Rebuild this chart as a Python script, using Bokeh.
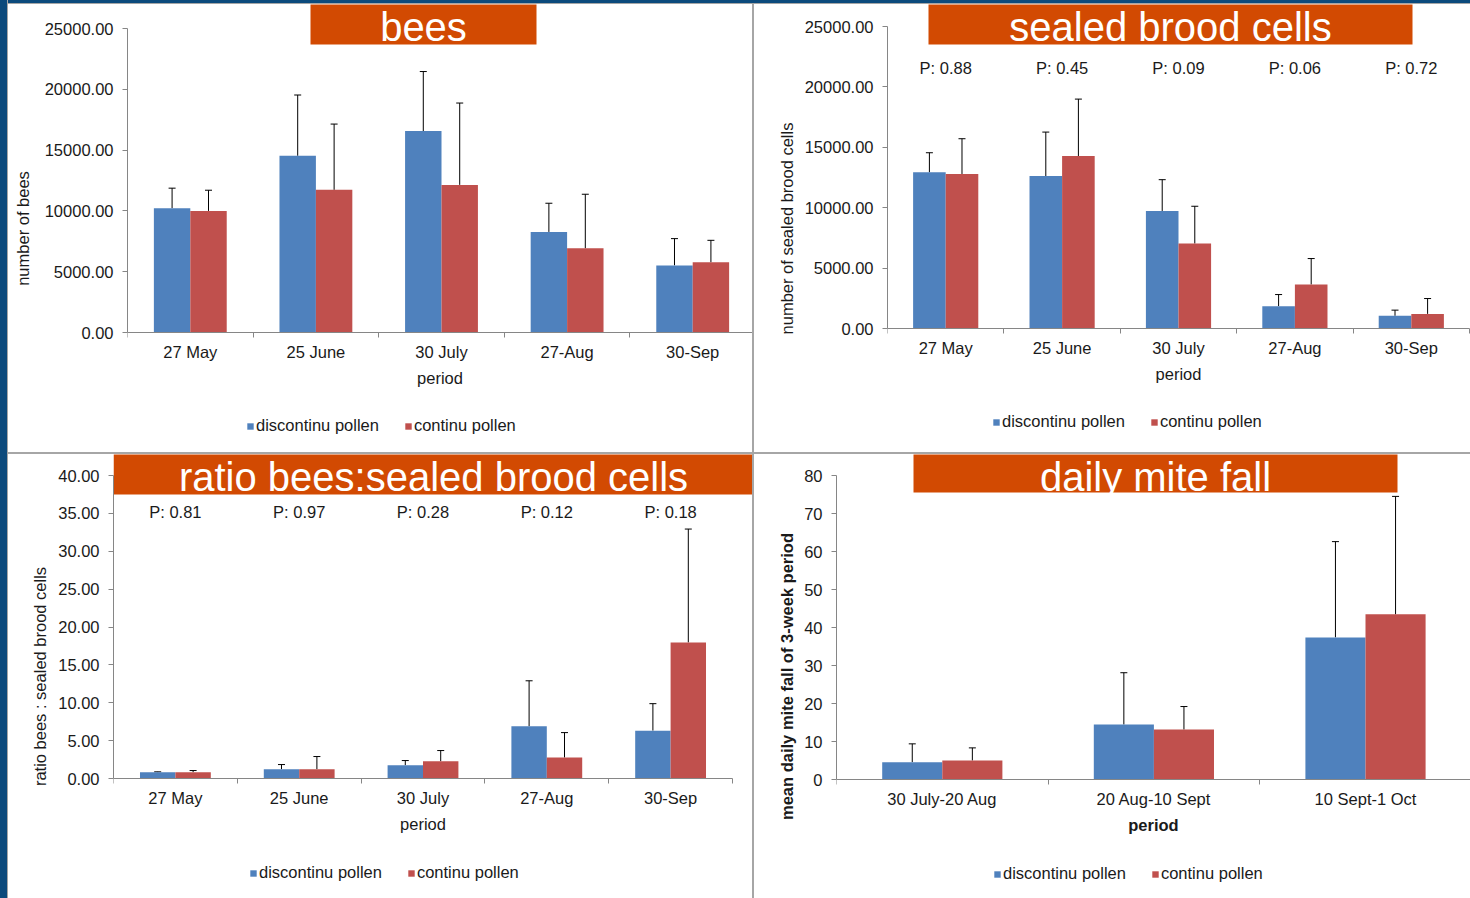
from bokeh.plotting import figure
from bokeh.models import (Range1d, FixedTicker, PrintfTickFormatter, Whisker, TeeHead,
                          ColumnDataSource, Legend, LegendItem, Div)
from bokeh.layouts import row, column
from bokeh.core.properties import value
from bokeh.embed import file_html
from bokeh.resources import INLINE

FONT = "Liberation Sans"
BLUE = "#4f81bd"
RED = "#c0504d"
TITLE_BG = "#d24a02"
AXIS_C = "#868686"
TEXT_C = "#1a1a1a"
FRAME_BLUE = "#0c4a7c"
SEP_C = "#a6a6a6"
FS = "16.5px"

# ---------------- data ----------------
dates5 = ["27 May", "25 June", "30 July", "27-Aug", "30-Sep"]
mite_periods = ["30 July-20 Aug", "20 Aug-10 Sept", "10 Sept-1 Oct"]
series = ["discontinu pollen", "continu pollen"]

bees_disc = [10220, 14530, 16570, 8270, 5520]
bees_disc_sd = [1650, 5000, 4890, 2360, 2200]
bees_cont = [10000, 11730, 12140, 6920, 5770]
bees_cont_sd = [1700, 5410, 6730, 4450, 1810]

brood_disc = [12930, 12620, 9730, 1850, 1050]
brood_disc_sd = [1620, 3640, 2590, 960, 470]
brood_cont = [12790, 14280, 7030, 3640, 1210]
brood_cont_sd = [2920, 4710, 3090, 2150, 1270]
brood_p = ["P: 0.88", "P: 0.45", "P: 0.09", "P: 0.06", "P: 0.72"]

ratio_disc = [0.83, 1.23, 1.76, 6.89, 6.32]
ratio_disc_sd = [0.05, 0.61, 0.61, 6.01, 3.56]
ratio_cont = [0.83, 1.23, 2.28, 2.77, 17.96]
ratio_cont_sd = [0.22, 1.67, 1.41, 3.29, 14.97]
ratio_p = ["P: 0.81", "P: 0.97", "P: 0.28", "P: 0.12", "P: 0.18"]

mite_disc = [4.56, 14.46, 37.4]
mite_disc_sd = [4.82, 13.64, 25.2]
mite_cont = [5.0, 13.14, 43.46]
mite_cont_sd = [3.32, 6.06, 31.04]

ticks_k = [0, 5000, 10000, 15000, 20000, 25000]
ticks_ratio = [0, 5, 10, 15, 20, 25, 30, 35, 40]
ticks_mite = [0, 10, 20, 30, 40, 50, 60, 70, 80]

TITLE_SIZE = 40


def panel(cats, disc, disc_sd, cont, cont_sd, yticks, yfmt, ylabel, title,
          W, H, ox, oy, axis_x, zero_y, top_y, cat_px, bar_w,
          box, title_cx, title_base, legend_x, legend_cy, ylab_standoff,
          pvals=None, p_y=None, bold=False):
    n = len(cats)
    fl = axis_x - ox          # frame left inside the figure
    fw = W - fl
    ymax = yticks[-1]
    ppu = (zero_y - top_y) / ymax
    y_end = (zero_y - oy) / ppu
    y_start = -(oy + H - zero_y) / ppu
    x_end = fw / cat_px

    def px_x(px):
        return (px - axis_x) / cat_px

    def px_y(py):
        return (zero_y - py) / ppu

    p = figure(width=W, height=H, x_range=Range1d(0, x_end), y_range=Range1d(y_start, y_end),
               output_backend="svg", toolbar_location=None,
               min_border_left=fl, min_border_right=0, min_border_top=0,
               min_border_bottom=0, styles={"background-color": "white"})
    p.outline_line_color = None
    p.xgrid.visible = False
    p.ygrid.visible = False
    p.background_fill_color = "white"
    p.border_fill_color = "white"

    centers = [i + 0.5 for i in range(n)]
    src = ColumnDataSource(dict(
        xd=[c - bar_w / 2 for c in centers],
        xc=[c + bar_w / 2 for c in centers],
        disc=disc, cont=cont,
        disc_up=[v + s for v, s in zip(disc, disc_sd)],
        cont_up=[v + s for v, s in zip(cont, cont_sd)],
    ))

    # title box
    p.quad(left=[px_x(box[0])], right=[px_x(box[1])], top=[px_y(box[2])], bottom=[px_y(box[3])],
           fill_color=TITLE_BG, line_color=None)
    p.text(x=[px_x(title_cx)], y=[px_y(title_base - 0.352 * TITLE_SIZE)], text=[title],
           text_align="center", text_baseline="middle", text_font=value(FONT),
           text_font_size=f"{TITLE_SIZE}px", text_color="white")

    r1 = p.vbar(x="xd", top="disc", bottom=0, width=bar_w, source=src, fill_color=BLUE, line_color=None)
    r2 = p.vbar(x="xc", top="cont", bottom=0, width=bar_w, source=src, fill_color=RED, line_color=None)

    for base, lo, up in (("xd", "disc", "disc_up"), ("xc", "cont", "cont_up")):
        w = Whisker(source=src, base=base, lower=lo, upper=up, line_color="black", line_width=1,
                    upper_head=TeeHead(size=7, line_color="black", line_width=1), lower_head=None)
        p.add_layout(w)

    if pvals is not None:
        p.text(x=centers, y=[px_y(p_y)] * n, text=pvals, text_align="center",
               text_baseline="middle", text_font=value(FONT), text_font_size=FS,
               text_color=TEXT_C)

    # y axis
    ya = p.yaxis[0]
    ya.ticker = FixedTicker(ticks=yticks)
    ya.formatter = PrintfTickFormatter(format=yfmt)
    ya.bounds = (0, ymax)
    ya.axis_line_color = AXIS_C
    ya.major_tick_line_color = AXIS_C
    ya.major_tick_out = 5
    ya.major_tick_in = 0
    ya.minor_tick_line_color = None
    ya.major_label_standoff = 9
    ya.major_label_text_font = FONT
    ya.major_label_text_font_size = FS
    ya.major_label_text_color = TEXT_C
    ya.axis_label = ylabel
    ya.axis_label_text_font = FONT
    ya.axis_label_text_font_size = FS
    ya.axis_label_text_font_style = "bold" if bold else "normal"
    ya.axis_label_text_color = TEXT_C
    ya.axis_label_standoff = ylab_standoff

    # x axis, drawn at y = 0 inside the plotting area
    xa = p.xaxis[0]
    xa.fixed_location = 0
    xa.ticker = FixedTicker(ticks=centers, minor_ticks=list(range(n + 1)))
    xa.major_label_overrides = {c: lab for c, lab in zip(centers, cats)}
    xa.bounds = (0, n)
    xa.axis_line_color = AXIS_C
    xa.major_tick_line_color = None
    xa.major_tick_out = 0
    xa.major_tick_in = 0
    xa.minor_tick_line_color = AXIS_C
    xa.minor_tick_out = 5
    xa.minor_tick_in = 0
    xa.major_label_standoff = 5
    xa.major_label_text_font = FONT
    xa.major_label_text_font_size = FS
    xa.major_label_text_color = TEXT_C
    xa.axis_label = "period"
    xa.axis_label_text_font = FONT
    xa.axis_label_text_font_size = FS
    xa.axis_label_text_font_style = "bold" if bold else "normal"
    xa.axis_label_text_color = TEXT_C
    xa.axis_label_standoff = 5

    item_h = 18
    leg = Legend(items=[LegendItem(label=series[0], renderers=[r1]),
                        LegendItem(label=series[1], renderers=[r2])],
                 orientation="horizontal",
                 location=(legend_x - axis_x, (oy + H) - (legend_cy + item_h / 2)),
                 glyph_width=8, glyph_height=8, label_height=16, label_standoff=2,
                 spacing=25, padding=0, margin=0, border_line_color=None,
                 background_fill_alpha=0, label_text_font=FONT,
                 label_text_font_size=FS, label_text_color=TEXT_C)
    p.add_layout(leg)
    return p


p_tl = panel(dates5, bees_disc, bees_disc_sd, bees_cont, bees_cont_sd, ticks_k, "%.2f",
             "number of bees", "bees",
             W=744, H=448, ox=8, oy=4, axis_x=127, zero_y=332, top_y=28, cat_px=125.6,
             bar_w=0.29, box=(310, 536, 0, 44), title_cx=423, title_base=41,
             legend_x=246, legend_cy=426, ylab_standoff=10)

p_tr = panel(dates5, brood_disc, brood_disc_sd, brood_cont, brood_cont_sd, ticks_k, "%.2f",
             "number of sealed brood cells", "sealed brood cells",
             W=716, H=448, ox=754, oy=4, axis_x=887, zero_y=328, top_y=26, cat_px=116.4,
             bar_w=0.28, box=(928, 1412, 0, 44), title_cx=1170, title_base=41,
             legend_x=992, legend_cy=422, ylab_standoff=6, pvals=brood_p, p_y=67)

p_bl = panel(dates5, ratio_disc, ratio_disc_sd, ratio_cont, ratio_cont_sd, ticks_ratio, "%.2f",
             "ratio bees : sealed brood cells", "ratio bees:sealed brood cells",
             W=744, H=444, ox=8, oy=454, axis_x=113, zero_y=778, top_y=475, cat_px=123.8,
             bar_w=0.286, box=(113, 760, 440, 494), title_cx=433, title_base=491,
             legend_x=249, legend_cy=873, ylab_standoff=6, pvals=ratio_p, p_y=511)

p_br = panel(mite_periods, mite_disc, mite_disc_sd, mite_cont, mite_cont_sd, ticks_mite, "%d",
             "mean daily mite fall of 3-week period", "daily mite fall",
             W=716, H=444, ox=754, oy=454, axis_x=836, zero_y=779, top_y=475, cat_px=211.6,
             bar_w=0.284, box=(913, 1397, 440, 492), title_cx=1155, title_base=491,
             legend_x=993, legend_cy=874, ylab_standoff=5, bold=True)

SEP = {"background-color": SEP_C}
grid = column(row(p_tl, p_tr, spacing=2, styles=SEP),
              row(p_bl, p_br, spacing=2, styles=SEP),
              spacing=2, styles=SEP)
left_bar = Div(text="", width=7, height=898, margin=(0, 0, 0, 0),
               styles={"background-color": FRAME_BLUE})
top_bar = Div(text="", width=1462, height=3, margin=(0, 0, 0, 0),
              styles={"background-color": FRAME_BLUE})
layout = row(left_bar, column(top_bar, grid, spacing=1, styles=SEP), spacing=1, styles=SEP)

open("out.html", "w").write(file_html(layout, INLINE, title="bees"))
